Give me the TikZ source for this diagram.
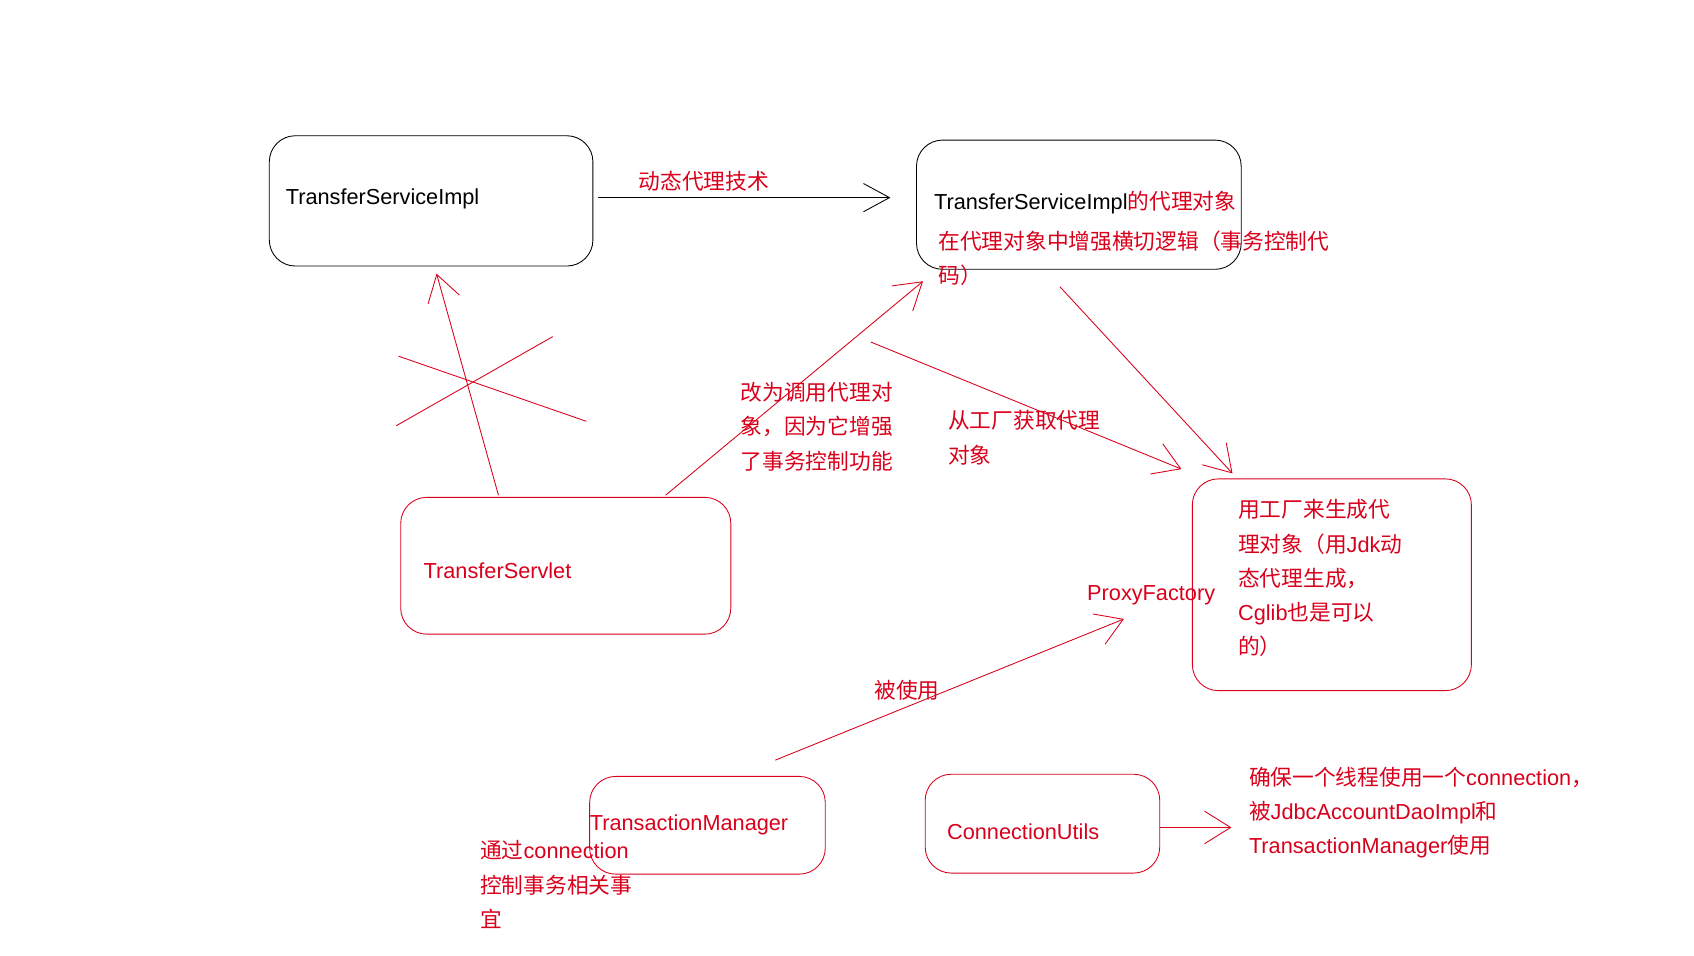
\documentclass[tikz,border=0pt]{standalone}
\usepackage{fontspec}
\setmainfont{Liberation Sans}
\newfontfamily\cjk{Noto Sans CJK SC}
\newcommand{\zh}[1]{{\cjk #1}}
\usetikzlibrary{arrows.meta}
\definecolor{rd}{HTML}{D9001B}
\begin{document}
\begin{tikzpicture}[x=1pt,y=-1pt,
 bx/.style={draw=#1,rounded corners=24pt,line width=0.8pt},
 tx/.style={anchor=west,inner sep=0pt,font=\fontsize{20}{31.5}\selectfont,align=left,text=rd},
 ar/.style={draw=rd,line width=0.8pt,-{Straight Barb[length=24pt,width=30pt,line width=0.8pt]}}]
\useasboundingbox (0,0) rectangle (1560,880);
% boxes
\draw[bx=black] (248,125) rectangle (546,245);
\node[tx,text=black] (ta) at (263,183) {TransferServiceImpl};
\draw[bx=black] (844,129) rectangle (1143,248);
\node[tx] (tb) at (860,187) {\textcolor{black}{TransferServiceImpl}\zh{的代理对象}};
\node[tx,anchor=north west] (tb2) at (864,212) {\zh{在代理对象中增强横切逻辑（事务控制代}\\\zh{码）}};
\draw[bx=rd] (369,458) rectangle (673,584);
\node[tx] (tc) at (390,526) {TransferServlet};
\draw[bx=rd] (1098,441) rectangle (1355,636);
\node[tx,anchor=north west] (td) at (1140,460) {\zh{用工厂来生成代}\\\zh{理对象（用}Jdk\zh{动}\\\zh{态代理生成，}\\Cglib\zh{也是可以}\\\zh{的）}};
\node[tx] (pf) at (1001,548) {ProxyFactory};
\draw[bx=rd] (543,715) rectangle (760,805);
\node[tx] (te) at (543,760) {TransactionManager};
\draw[bx=rd] (852,713) rectangle (1068,804);
\node[tx] (tf) at (872,766) {ConnectionUtils};
% labels
\node[tx] (l1) at (588,167) {\zh{动态代理技术}};
\node[tx,anchor=north west] (l2) at (682,352) {\zh{改为调用代理对}\\\zh{象，因为它增强}\\\zh{了事务控制功能}};
\node[tx,anchor=north west] (l3) at (873,378) {\zh{从工厂获取代理}\\\zh{对象}};
\node[tx] (l4) at (805,636) {\zh{被使用}};
\node[tx,anchor=north west] (l5) at (442,774) {\zh{通过}connection\\\zh{控制事务相关事}\\\zh{宜}};
\node[tx,anchor=north west] (l6) at (1150,706) {\zh{确保一个线程使用一个}connection\zh{，}\\\zh{被}JdbcAccountDaoImpl\zh{和}\\TransactionManager\zh{使用}};
% connector coordinates
\coordinate (a1) at (551,182); \coordinate (a2) at (820,182);
\coordinate (b1) at (459,456); \coordinate (b2) at (402,252);
\coordinate (c1) at (613,456); \coordinate (c2) at (850,259);
\coordinate (d1) at (802,315); \coordinate (d2) at (1088,432);
\coordinate (e1) at (976,264); \coordinate (e2) at (1135,436);
\coordinate (f1) at (714,700); \coordinate (f2) at (1035,570);
\coordinate (g1) at (1068,762); \coordinate (g2) at (1134,762);
\coordinate (x1) at (367,328); \coordinate (x2) at (540,388);
\coordinate (x3) at (365,392); \coordinate (x4) at (509,310);
\draw[ar,draw=black,-{Straight Barb[length=24pt,width=26pt,line width=0.8pt]}] (a1) -- (a2);
\draw[ar] (b1) -- (b2);
\draw[ar] (c1) -- (c2);
\draw[ar] (d1) -- (d2);
\draw[ar] (e1) -- (e2);
\draw[ar] (f1) -- (f2);
\draw[ar] (g1) -- (g2);
\draw[rd,line width=0.8pt] (x1) -- (x2) (x3) -- (x4);
\end{tikzpicture}
\end{document}
